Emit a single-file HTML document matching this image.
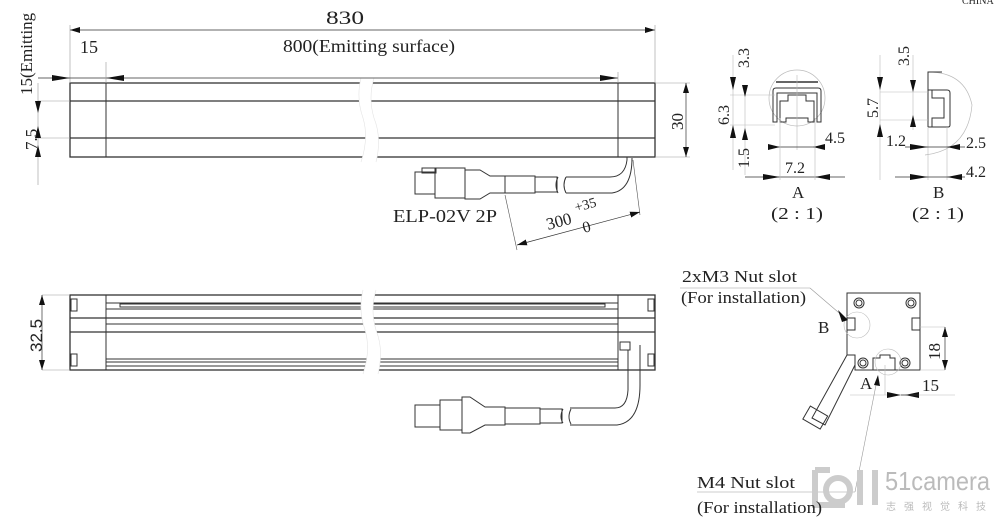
<!DOCTYPE html>
<html><head><meta charset="utf-8"><style>
html,body{margin:0;padding:0;background:#fff;width:1000px;height:519px;overflow:hidden}
svg{display:block}
text{font-family:"Liberation Serif","Noto Serif CJK SC",serif;fill:#222}
</style></head><body>
<svg width="1000" height="519" viewBox="0 0 1000 519" xmlns="http://www.w3.org/2000/svg">
<defs>
<marker id="a" viewBox="0 0 10 6" refX="10" refY="3" markerWidth="10" markerHeight="6" orient="auto-start-reverse" markerUnits="userSpaceOnUse"><path d="M0,0L10,3L0,6z" fill="#111"/></marker>
</defs>
<g stroke="#333" fill="none" stroke-width="1">
<!-- TOP BAR -->
<rect x="70" y="83" width="585" height="74" stroke-width="1.3"/>
<line x1="70" y1="101" x2="655" y2="101" stroke-width="1.3"/>
<line x1="70" y1="138" x2="655" y2="138" stroke-width="1.3"/>
<line x1="106" y1="83" x2="106" y2="157"/>
<line x1="618" y1="83" x2="618" y2="157"/>
<path d="M361,78 q-5,20 2,40 q6,20 -2,44 L376,162 q6,-24 -2,-44 q-6,-20 0,-40z" fill="#fff" stroke="none"/>
<path d="M361,78 q-5,20 2,40 q6,20 -2,44 M376,162 q6,-24 -2,-44 q-6,-20 0,-40" stroke="#e4e4e4" stroke-width="0.6"/>
<!-- dims top -->
<line x1="70" y1="30" x2="655" y2="30" stroke-width="0.7" marker-start="url(#a)" marker-end="url(#a)"/>
<line x1="70" y1="25" x2="70" y2="83" stroke="#999" stroke-width="0.6"/>
<line x1="655" y1="25" x2="655" y2="83" stroke="#999" stroke-width="0.6"/>
<line x1="38" y1="78" x2="618" y2="78" stroke-width="0.7"/>
<path d="M52,75L70,78L52,81z M124,75L106,78L124,81z M600,75L618,78L600,81z" fill="#111" stroke="none"/>
<line x1="106" y1="62" x2="106" y2="83" stroke="#999" stroke-width="0.6"/>
<line x1="618" y1="72" x2="618" y2="83" stroke="#999" stroke-width="0.6"/>
<line x1="655" y1="83" x2="690" y2="83" stroke="#999" stroke-width="0.6"/>
<line x1="655" y1="157" x2="690" y2="157" stroke="#999" stroke-width="0.6"/>
<line x1="686" y1="83" x2="686" y2="157" stroke-width="0.7" marker-start="url(#a)" marker-end="url(#a)"/>
<line x1="38" y1="83" x2="38" y2="185" stroke="#999" stroke-width="0.6"/>
<line x1="38" y1="101" x2="70" y2="101" stroke="#999" stroke-width="0.6"/>
<line x1="38" y1="138" x2="70" y2="138" stroke="#999" stroke-width="0.6"/>
<path d="M35,101L38,113L41,101z M35,138L38,126L41,138z M35,157L38,145L41,157z" fill="#111" stroke="none"/>
<!-- cable top -->
<rect x="415" y="172" width="20" height="22"/>
<rect x="422" y="168" width="14" height="5"/>
<rect x="435" y="168" width="30" height="30"/>
<path d="M465,170 L480,170 L490,176 L505,176 L505,193 L490,193 L480,199 L465,199z"/>
<rect x="505" y="176" width="30" height="17"/>
<rect x="535" y="177" width="22" height="15"/>
<path d="M566,177 L610,177 Q625,177 627,160 L627,157 M566,193 L612,193 Q632,190 632,158"/>
<path d="M558,177 q-4,8 0,16 M566,177 q-4,8 0,16"/>
<line x1="633" y1="160" x2="640" y2="215" stroke="#555" stroke-width="0.6"/>
<line x1="505" y1="195" x2="517" y2="250" stroke="#555" stroke-width="0.6"/>
<line x1="517" y1="245" x2="640" y2="212" stroke-width="0.7" marker-start="url(#a)" marker-end="url(#a)"/>

<!-- BOTTOM BAR -->
<rect x="70" y="295" width="585" height="75" stroke-width="1.3"/>
<line x1="106" y1="295" x2="106" y2="370"/>
<line x1="618" y1="295" x2="618" y2="370"/>
<line x1="106" y1="303" x2="618" y2="303"/>
<rect x="120" y="304" width="485" height="3"/>
<line x1="106" y1="309" x2="618" y2="309"/>
<line x1="70" y1="318" x2="655" y2="318" stroke-width="1.3"/>
<line x1="106" y1="324" x2="618" y2="324"/>
<line x1="70" y1="332" x2="655" y2="332" stroke-width="1.3"/>
<line x1="106" y1="359" x2="618" y2="359"/>
<line x1="106" y1="362" x2="618" y2="362"/>
<line x1="106" y1="366" x2="618" y2="366"/>
<rect x="71" y="299" width="6" height="12"/>
<rect x="71" y="354" width="6" height="12"/>
<rect x="648" y="299" width="6" height="12"/>
<rect x="648" y="354" width="6" height="12"/>
<path d="M363,290 q-5,20 2,40 q6,20 -2,44 L378,374 q6,-24 -2,-44 q-6,-20 0,-40z" fill="#fff" stroke="none"/>
<path d="M363,290 q-5,20 2,40 q6,20 -2,44 M378,374 q6,-24 -2,-44 q-6,-20 0,-40" stroke="#e4e4e4" stroke-width="0.6"/>
<line x1="42" y1="295" x2="70" y2="295" stroke="#999" stroke-width="0.6"/>
<line x1="42" y1="370" x2="70" y2="370" stroke="#999" stroke-width="0.6"/>
<line x1="42" y1="295" x2="42" y2="370" stroke-width="0.7" marker-start="url(#a)" marker-end="url(#a)"/>
<rect x="620" y="342" width="10" height="8"/>
<!-- cable bottom -->
<rect x="415" y="405" width="25" height="22"/>
<rect x="440" y="400" width="22" height="30"/>
<path d="M462,397 L470,397 L485,407 L505,407 L505,425 L485,425 L470,433 L462,433z"/>
<rect x="505" y="408" width="35" height="16"/>
<rect x="540" y="409" width="22" height="14"/>
<path d="M570,408 L615,408 Q627,408 628,390 L628,350 M570,425 L617,425 Q640,422 640,385 L640,345"/>
<path d="M563,409 q-4,8 0,14 M571,409 q-4,8 0,15"/>

<!-- DETAIL A -->
<circle cx="797" cy="98" r="28" stroke="#bbb" stroke-width="0.7"/>
<path d="M773,122 L773,91 Q773,88 776,88 L818,88 Q821,88 821,91 L821,122 L817,122 L817,93 L777,93 L777,122z"/>
<path d="M780,122 L780,101 L788,101 L788,95 L806,95 L806,101 L814,101 L814,122 L808,122 L808,118 L786,118 L786,122z"/>
<line x1="776" y1="82" x2="818" y2="82" stroke-width="1.5"/>
<line x1="797" y1="75" x2="797" y2="150" stroke="#bbb" stroke-width="0.6"/>
<line x1="745" y1="95" x2="745" y2="175" stroke="#bbb" stroke-width="0.6"/>
<line x1="730" y1="95" x2="775" y2="95" stroke="#bbb" stroke-width="0.6"/>
<line x1="730" y1="125" x2="775" y2="125" stroke="#bbb" stroke-width="0.6"/>
<line x1="733" y1="55" x2="733" y2="170" stroke="#bbb" stroke-width="0.6"/>
<path d="M730,77L733,90L736,77z M730,138L733,125L736,138z M742,85L745,97L748,85z M742,140L745,128L748,140z" fill="#111" stroke="none"/>
<line x1="768" y1="147" x2="825" y2="147" stroke-width="0.7"/>
<path d="M768,144L780,147L768,150z M825,144L813,147L825,150z" fill="#111" stroke="none"/>
<line x1="745" y1="177" x2="845" y2="177" stroke-width="0.7"/>
<path d="M763,174L780,177L763,180z M830,174L815,177L830,180z" fill="#111" stroke="none"/>
<line x1="780" y1="118" x2="780" y2="180" stroke="#bbb" stroke-width="0.6"/>
<line x1="815" y1="118" x2="815" y2="180" stroke="#bbb" stroke-width="0.6"/>
<!-- DETAIL B -->
<path d="M928,72 Q965,72 972,105 Q968,150 925,155" stroke="#bbb" stroke-width="0.7"/>
<path d="M928,127 L928,72 L942,72 M928,127 L948,127 Q950,127 950,125 L950,93 Q950,90 947,90 L928,90"/>
<path d="M932,90 L932,98 L944,98 L944,118 L932,118 L932,127"/>
<line x1="880" y1="55" x2="880" y2="180" stroke="#bbb" stroke-width="0.6"/>
<line x1="880" y1="92" x2="928" y2="92" stroke="#bbb" stroke-width="0.6"/>
<line x1="880" y1="120" x2="928" y2="120" stroke="#bbb" stroke-width="0.6"/>
<line x1="913" y1="55" x2="913" y2="130" stroke="#bbb" stroke-width="0.6"/>
<line x1="928" y1="127" x2="928" y2="180" stroke="#bbb" stroke-width="0.6"/>
<line x1="947" y1="127" x2="947" y2="180" stroke="#bbb" stroke-width="0.6"/>
<path d="M877,77L880,90L883,77z M877,137L880,124L883,137z M910,80L913,92L916,80z M910,127L913,115L916,127z" fill="#111" stroke="none"/>
<line x1="905" y1="147" x2="965" y2="147" stroke-width="0.7"/>
<path d="M910,144L928,147L910,150z M960,144L947,147L960,150z" fill="#111" stroke="none"/>
<line x1="895" y1="177" x2="965" y2="177" stroke-width="0.7"/>
<path d="M910,174L928,177L910,180z M962,174L947,177L962,180z" fill="#111" stroke="none"/>

<!-- END VIEW -->
<path d="M847,355 L847,293 L920,293 L920,370 L855,370 L855,355z"/>
<circle cx="859" cy="303" r="5"/><circle cx="859" cy="303" r="3"/>
<circle cx="911" cy="303" r="5"/><circle cx="911" cy="303" r="3"/>
<circle cx="863" cy="363" r="5"/><circle cx="863" cy="363" r="3"/>
<circle cx="905" cy="363" r="5"/><circle cx="905" cy="363" r="3"/>
<path d="M847,318 L855,318 L855,330 L847,330"/>
<path d="M920,318 L912,318 L912,330 L920,330"/>
<path d="M873,370 L873,358 L880,358 L880,355 L890,355 L890,358 L895,358 L895,370"/>
<circle cx="857" cy="325" r="13" stroke="#bbb" stroke-width="0.6"/>
<circle cx="888" cy="362" r="13" stroke="#bbb" stroke-width="0.6"/>
<path d="M847,355 L812,418 L825,425 L855,365"/>
<rect x="805" y="410" width="20" height="15" transform="rotate(30 815 418)"/>
<line x1="920" y1="327" x2="945" y2="327" stroke="#bbb" stroke-width="0.6"/>
<line x1="920" y1="370" x2="945" y2="370" stroke="#bbb" stroke-width="0.6"/>
<line x1="945" y1="327" x2="945" y2="370" stroke-width="0.7" marker-start="url(#a)" marker-end="url(#a)"/>
<line x1="885" y1="365" x2="885" y2="395" stroke="#bbb" stroke-width="0.6"/>
<line x1="850" y1="395" x2="955" y2="395" stroke="#bbb" stroke-width="0.6"/>
<path d="M887,392L901,395L887,398z M919,392L905,395L919,398z" fill="#111" stroke="none"/>
<line x1="901" y1="395" x2="919" y2="395" stroke-width="0.7"/>
<line x1="680" y1="288" x2="810" y2="288" stroke="#999" stroke-width="0.6"/>
<line x1="810" y1="288" x2="845" y2="318" stroke="#999" stroke-width="0.6"/>
<path d="M838,310L848,320L842,322z" fill="#111" stroke="none"/>
<line x1="877" y1="380" x2="855" y2="492" stroke="#999" stroke-width="0.6"/>
<line x1="697" y1="492" x2="855" y2="492" stroke="#999" stroke-width="0.6"/>
<path d="M874,385L878,375L880,386z" fill="#111" stroke="none"/>
</g>

<!-- watermark -->
<g stroke="#ccc" stroke-width="6" fill="none">
<path d="M815,470 L815,505 L845,505 M815,470 L830,470"/>
<path d="M860,470 L860,505 M875,470 L875,505"/>
<circle cx="838" cy="490" r="12"/>
</g>
<text x="885" y="490" font-size="26" textLength="105" lengthAdjust="spacingAndGlyphs" style="fill:#bbb;font-family:'Liberation Sans',sans-serif">51camera</text>
<text x="886" y="510" font-size="10" textLength="100" style="fill:#bbb;font-family:'Noto Sans CJK SC',sans-serif">志强视觉科技</text>

<!-- texts -->
<text x="326" y="24" font-size="19" textLength="38" lengthAdjust="spacingAndGlyphs">830</text>
<text x="80" y="53" font-size="18" textLength="18" lengthAdjust="spacingAndGlyphs">15</text>
<text x="283" y="52" font-size="18" textLength="172" lengthAdjust="spacingAndGlyphs">800(Emitting surface)</text>
<text transform="translate(32,95) rotate(-90)" font-size="17">15(Emitting</text>
<text transform="translate(37,150) rotate(-90)" font-size="17">7.5</text>
<text transform="translate(683,130) rotate(-90)" font-size="17">30</text>
<text x="393" y="222" font-size="18" textLength="104" lengthAdjust="spacingAndGlyphs">ELP-02V 2P</text>
<text transform="translate(548,230) rotate(-15)" font-size="17">300</text>
<text transform="translate(576,212) rotate(-15)" font-size="14">+35</text>
<text transform="translate(584,233) rotate(-15)" font-size="16">0</text>
<text transform="translate(42,352) rotate(-90)" font-size="17" style="font-family:'Liberation Sans',sans-serif">32.5</text>
<text transform="translate(749,68) rotate(-90)" font-size="16">3.3</text>
<text transform="translate(729,125) rotate(-90)" font-size="16">6.3</text>
<text transform="translate(749,168) rotate(-90)" font-size="16">1.5</text>
<text x="825" y="143" font-size="16">4.5</text>
<text x="785" y="173" font-size="16">7.2</text>
<text x="792" y="198" font-size="17">A</text>
<text x="771" y="219" font-size="17" textLength="52" lengthAdjust="spacingAndGlyphs">(2 : 1)</text>
<text transform="translate(909,66) rotate(-90)" font-size="16">3.5</text>
<text transform="translate(878,118) rotate(-90)" font-size="16">5.7</text>
<text x="886" y="146" font-size="16">1.2</text>
<text x="966" y="148" font-size="16">2.5</text>
<text x="966" y="177" font-size="16">4.2</text>
<text x="933" y="198" font-size="17">B</text>
<text x="912" y="219" font-size="17" textLength="52" lengthAdjust="spacingAndGlyphs">(2 : 1)</text>
<text x="682" y="282" font-size="17" textLength="115" lengthAdjust="spacingAndGlyphs">2xM3 Nut slot</text>
<text x="681" y="303" font-size="17" textLength="125" lengthAdjust="spacingAndGlyphs">(For installation)</text>
<text x="818" y="333" font-size="17">B</text>
<text x="860" y="389" font-size="17">A</text>
<text transform="translate(940,360) rotate(-90)" font-size="17">18</text>
<text x="922" y="391" font-size="17">15</text>
<text x="697" y="488" font-size="17" textLength="98" lengthAdjust="spacingAndGlyphs">M4 Nut slot</text>
<text x="697" y="513" font-size="17" textLength="125" lengthAdjust="spacingAndGlyphs">(For installation)</text>
<text x="962" y="4" font-size="10">CHINA</text>
</svg>
</body></html>
